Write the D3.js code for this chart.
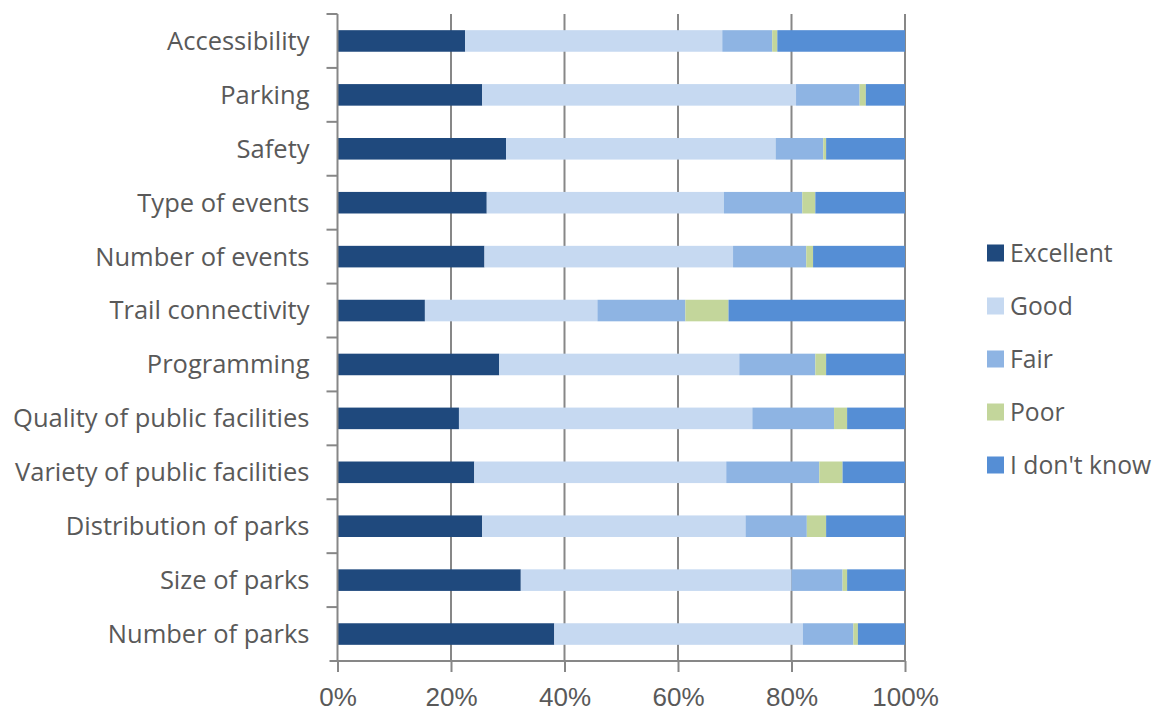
<!DOCTYPE html>
<html>
<head>
<meta charset="utf-8">
<script src="https://cdn.jsdelivr.net/npm/d3@7"></script>
<style>
  html, body { margin: 0; padding: 0; background: #fff; }
  svg { display: block; font-family: "Open Sans", "Noto Sans", sans-serif; }
</style>
</head>
<body>
<svg id="chart" width="1168" height="712"></svg>
<script>
const categories = [
  "Accessibility", "Parking", "Safety", "Type of events", "Number of events",
  "Trail connectivity", "Programming", "Quality of public facilities",
  "Variety of public facilities", "Distribution of parks", "Size of parks", "Number of parks"
];
const seriesNames = ["Excellent", "Good", "Fair", "Poor", "I don't know"];
const excellent = [22.5, 25.5, 29.7, 26.3, 25.9, 15.4, 28.5, 21.4, 24.1, 25.5, 32.3, 38.2];
const good      = [45.3, 55.3, 47.5, 41.8, 43.8, 30.4, 42.3, 51.7, 44.4, 46.4, 47.7, 43.8];
const fair      = [ 8.8, 11.2,  8.4, 13.8, 12.9, 15.5, 13.4, 14.4, 16.4, 10.8,  9.0,  8.9];
const poor      = [ 0.9,  1.1,  0.5,  2.3,  1.2,  7.6,  1.9,  2.3,  4.1,  3.4,  0.8,  0.8];
const dontKnow  = [22.5,  6.9, 13.9, 15.8, 16.2, 31.1, 13.9, 10.2, 11.0, 13.9, 10.2,  8.3];
const tickValues = [0, 0.2, 0.4, 0.6, 0.8, 1.0];
const colors = ["#1F497D", "#C6D9F1", "#8EB4E3", "#C3D69B", "#558ED5"];

const seriesValues = [excellent, good, fair, poor, dontKnow];
const rows = categories.map((c, i) => {
  const o = { category: c };
  const total = seriesValues.reduce((s, arr) => s + arr[i], 0);
  seriesNames.forEach((n, k) => { o[n] = seriesValues[k][i] / total; });
  return o;
});

const svg = d3.select("#chart");
const margin = { left: 337.5, right: 263, top: 14, bottom: 51 };
const W = 1168, H = 712;
const x = d3.scaleLinear().domain([0, 1]).range([margin.left, W - margin.right]);
const y = d3.scaleBand().domain(categories).range([margin.top, H - margin.bottom]).paddingInner(0.6).paddingOuter(0.3);
const yOuter = d3.scaleBand().domain(categories).range([margin.top, H - margin.bottom]);

const gridColor = "#878787";
const textColor = "#595959";

// gridlines
svg.append("g").selectAll("line").data(tickValues.slice(1)).join("line")
  .attr("x1", d => x(d)).attr("x2", d => x(d))
  .attr("y1", margin.top).attr("y2", H - margin.bottom)
  .attr("stroke", gridColor).attr("stroke-width", 2);

// bars
const stack = d3.stack().keys(seriesNames)(rows);
svg.append("g").selectAll("g").data(stack).join("g")
  .attr("fill", (d, i) => colors[i])
  .selectAll("rect").data(d => d).join("rect")
  .attr("x", d => x(d[0]))
  .attr("width", d => x(d[1]) - x(d[0]))
  .attr("y", d => y(d.data.category))
  .attr("height", y.bandwidth());

// x axis
const xAxis = d3.axisBottom(x).tickValues(tickValues).tickFormat(d3.format(".0%")).tickSize(11).tickPadding(16);
const gx = svg.append("g").attr("transform", `translate(0,${H - margin.bottom})`).call(xAxis);
gx.select(".domain").remove();
gx.append("line").attr("x1", margin.left - 8).attr("x2", x(1)).attr("y1", 0).attr("y2", 0)
  .attr("stroke", gridColor).attr("stroke-width", 2);
gx.selectAll(".tick line").attr("stroke", gridColor).attr("stroke-width", 2);
gx.selectAll(".tick text").attr("fill", textColor).style("font-size", "26px").attr("dy", "0.71em");

// y axis
const gy = svg.append("g").attr("transform", `translate(${margin.left},0)`);
gy.append("line").attr("x1", 0).attr("x2", 0).attr("y1", margin.top).attr("y2", H - margin.bottom)
  .attr("stroke", gridColor).attr("stroke-width", 2);
const boundaries = categories.map(c => yOuter(c));
gy.selectAll("line.bt").data(boundaries).join("line").attr("class", "bt")
  .attr("x1", -11).attr("x2", 0).attr("y1", d => d).attr("y2", d => d)
  .attr("stroke", gridColor).attr("stroke-width", 2);
gy.selectAll("text").data(categories).join("text")
  .attr("x", -28).attr("y", d => y(d) + y.bandwidth() / 2)
  .attr("dy", "0.35em").attr("text-anchor", "end")
  .attr("fill", textColor).style("font-size", "25.5px")
  .text(d => d);

// legend
const legend = svg.append("g").attr("transform", "translate(987,253)");
const lg = legend.selectAll("g").data(seriesNames).join("g")
  .attr("transform", (d, i) => `translate(0,${i * 53})`);
lg.append("rect").attr("x", 0).attr("y", -8.5).attr("width", 17).attr("height", 17)
  .attr("fill", (d, i) => colors[i]);
lg.append("text").attr("x", 23).attr("y", 0).attr("dy", "0.35em")
  .attr("fill", textColor).style("font-size", "24.7px").text(d => d);
</script>
</body>
</html>
